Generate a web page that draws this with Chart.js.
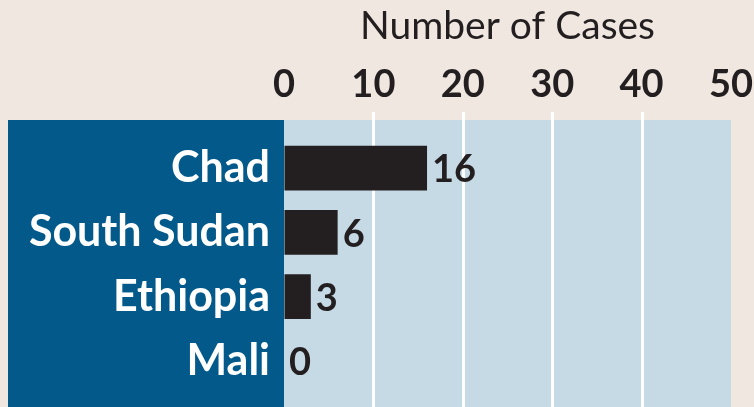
<!DOCTYPE html>
<html>
<head>
<meta charset="utf-8">
<script src="https://cdn.jsdelivr.net/npm/chart.js@4"></script>
<style>
  html, body { margin: 0; padding: 0; background: #f0e7e1; }
  #wrap { width: 754px; height: 407px; position: relative; }
</style>
</head>
<body>
<div id="wrap"><canvas id="casesChart"></canvas></div>
<script>
const countries = ['Chad', 'South Sudan', 'Ethiopia', 'Mali'];
const cases = [16, 6, 3, 0];
const caseTicks = [0, 10, 20, 30, 40, 50];
const axisTitle = 'Number of Cases';

const ink = '#231f20';
const panelBlue = '#02598a';
const plotBlue = '#c6dae6';
const fontFamily = 'Lato, "Open Sans", sans-serif';

// blue panels and white gridlines, painted before axes and bars
const panels = {
    id: 'panels',
    beforeDraw(chart) {
        const { ctx, chartArea, scales } = chart;
        const top = 120;
        ctx.save();
        ctx.fillStyle = panelBlue;
        ctx.fillRect(8, top, chartArea.left - 8, chart.height - top);
        ctx.fillStyle = plotBlue;
        ctx.fillRect(chartArea.left, top, chartArea.right - chartArea.left, chart.height - top);
        ctx.strokeStyle = '#ffffff';
        ctx.lineWidth = 3;
        caseTicks.slice(1, -1).forEach(v => {
            const px = Math.round(scales.x.getPixelForValue(v)) + 0.5;
            ctx.beginPath();
            ctx.moveTo(px, top - 8);
            ctx.lineTo(px, chart.height);
            ctx.stroke();
        });
        ctx.restore();
    }
};

// value next to each bar
const valueLabels = {
    id: 'valueLabels',
    afterDatasetsDraw(chart) {
        const { ctx } = chart;
        const meta = chart.getDatasetMeta(0);
        ctx.save();
        ctx.font = 'bold 38px ' + fontFamily;
        ctx.fillStyle = ink;
        ctx.textBaseline = 'middle';
        meta.data.forEach((bar, i) => {
            ctx.fillText(String(cases[i]), bar.x + 5, bar.y + 2);
        });
        ctx.restore();
    }
};

const ctx = document.getElementById('casesChart').getContext('2d');
new Chart(ctx, {
    type: 'bar',
    data: {
        labels: countries,
        datasets: [{
            data: cases,
            backgroundColor: ink,
            barPercentage: 0.7,
            categoryPercentage: 1
        }]
    },
    options: {
        indexAxis: 'y',
        responsive: true,
        maintainAspectRatio: false,
        animation: false,
        layout: { padding: { top: 0, right: 23, bottom: 14, left: 0 } },
        plugins: {
            legend: { display: false },
            tooltip: { enabled: false }
        },
        scales: {
            x: {
                position: 'top',
                min: 0,
                max: 50,
                border: { display: false },
                // invisible tick marks just to push the labels up
                grid: { display: true, drawOnChartArea: false, color: 'rgba(0,0,0,0)', tickLength: 28 },
                afterBuildTicks: s => { s.ticks = caseTicks.map(v => ({ value: v })); },
                ticks: {
                    color: ink,
                    font: { family: fontFamily, size: 38, weight: 'bold' },
                    padding: 0,
                    maxRotation: 0
                },
                title: {
                    display: true,
                    text: axisTitle,
                    color: ink,
                    font: { family: fontFamily, size: 39 },
                    padding: { top: 3, bottom: 0 }
                },
                afterFit: s => { s.height = 136; }
            },
            y: {
                border: { display: false },
                grid: { display: true, drawOnChartArea: false, color: 'rgba(0,0,0,0)', tickLength: 14 },
                ticks: {
                    color: '#ffffff',
                    font: { family: fontFamily, size: 43, weight: 'bold', lineHeight: 0.6 },
                    padding: 0,
                    autoSkip: false
                },
                afterFit: s => { s.width = 284; }
            }
        }
    },
    plugins: [panels, valueLabels]
});
</script>
</body>
</html>
